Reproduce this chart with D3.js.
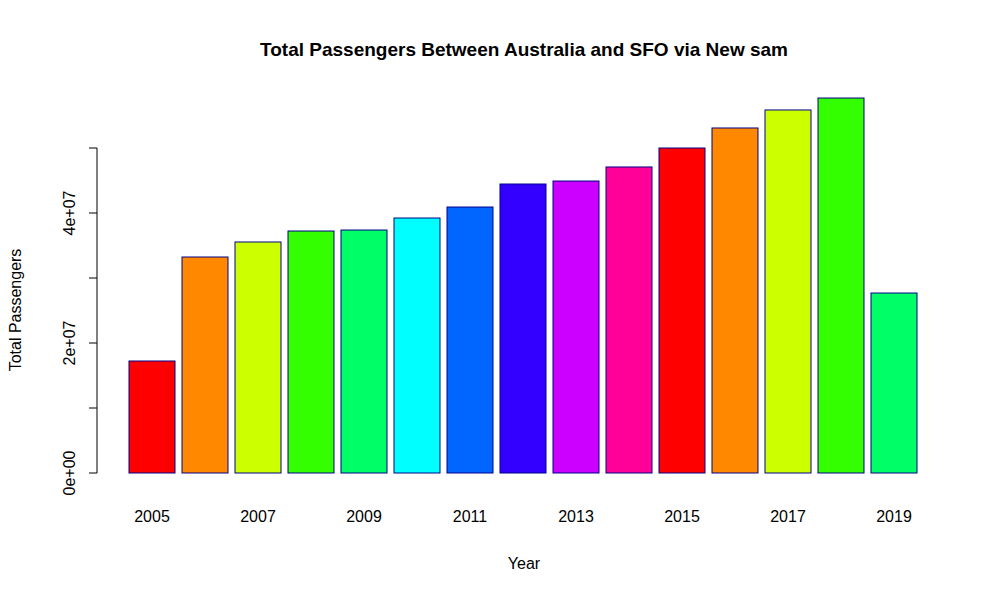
<!DOCTYPE html>
<html><head><meta charset="utf-8">
<script src="https://cdn.jsdelivr.net/npm/d3@7"></script>
<style>body{margin:0;background:#fff}text{font-family:"Liberation Sans",Arial,sans-serif}</style>
</head><body><svg id="c" width="1000" height="600"></svg>
<script>
const years = ["2005","2006","2007","2008","2009","2010","2011","2012","2013","2014","2015","2016","2017","2018","2019"];
const passengers = [17230000,33230000,35540000,37230000,37380000,39230000,40920000,44460000,44920000,47080000,50000000,53080000,55850000,57690000,27690000];
const colors = ["#FF0000","#FF8800","#CCFF00","#33FF00","#00FF66","#00FFFF","#0066FF","#3300FF","#CC00FF","#FF0099"];
const yTicks = [0,10000000,20000000,30000000,40000000,50000000];
const yLabels = {0:"0e+00",20000000:"2e+07",40000000:"4e+07"};

const svg = d3.select("#c");
const x = d3.scaleBand().domain(years).range([125.5,920.5]).paddingInner(7/53).paddingOuter(3.5/53);
const y = d3.scaleLinear().domain([0,50000000]).range([473,148]);

svg.selectAll("rect.bar").data(years).enter().append("rect")
  .attr("x",d=>x(d)).attr("width",x.bandwidth())
  .attr("y",(d,i)=>y(passengers[i])).attr("height",(d,i)=>y(0)-y(passengers[i]))
  .attr("fill",(d,i)=>colors[i%colors.length]).attr("stroke","#00008B").attr("stroke-width",1);

const ax = svg.append("g").attr("transform","translate(97,0)");
ax.append("line").attr("x1",0).attr("x2",0).attr("y1",y(0)).attr("y2",y(50000000)).attr("stroke","#000");
ax.selectAll("line.t").data(yTicks).enter().append("line")
  .attr("x1",-8).attr("x2",0).attr("y1",d=>y(d)).attr("y2",d=>y(d)).attr("stroke","#000");
ax.selectAll("text").data(yTicks.filter(d=>yLabels[d])).enter().append("text")
  .attr("transform",d=>`translate(-28,${y(d)}) rotate(-90)`).attr("text-anchor","middle")
  .attr("dy","0.35em").attr("font-size",16).text(d=>yLabels[d]);

svg.selectAll("text.yr").data(years.filter((d,i)=>i%2===0)).enter().append("text")
  .attr("x",d=>x(d)+x.bandwidth()/2).attr("y",522).attr("text-anchor","middle").attr("font-size",16).text(d=>d);

svg.append("text").attr("x",524).attr("y",56).attr("text-anchor","middle").attr("font-size",19).attr("font-weight","bold")
  .text("Total Passengers Between Australia and SFO via New sam");
svg.append("text").attr("x",524).attr("y",569).attr("text-anchor","middle").attr("font-size",16).text("Year");
svg.append("text").attr("transform","translate(21,310) rotate(-90)").attr("text-anchor","middle").attr("font-size",16).text("Total Passengers");
</script></body></html>
